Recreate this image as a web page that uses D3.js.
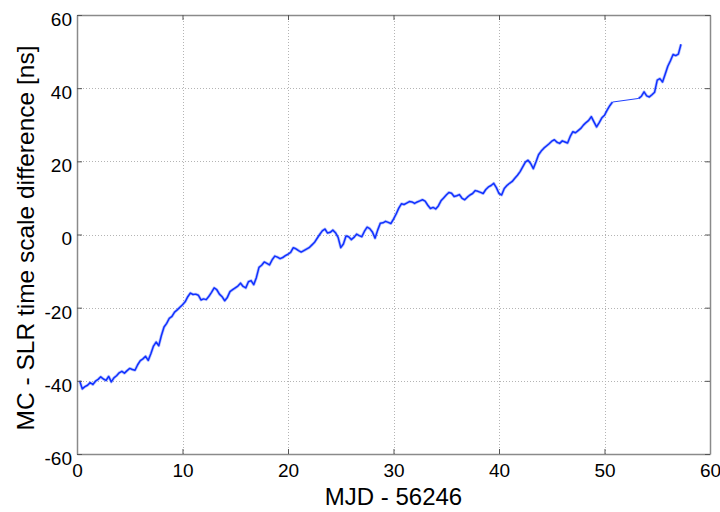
<!DOCTYPE html>
<html>
<head>
<meta charset="utf-8">
<script src="https://cdn.jsdelivr.net/npm/d3@7"></script>
<style>
  html, body { margin: 0; padding: 0; background: #fff; }
  svg { display: block; }
  text { font-family: "Liberation Sans", Arial, Helvetica, sans-serif; fill: #000; }
</style>
</head>
<body>
<svg id="chart" width="720" height="512"></svg>
<script>
// ---- data ----
const mjdSeg1 = [
  0.25,0.5,0.75,1.0, 1.25,1.5,1.75,2.0, 2.25,2.5,2.75,3.0, 3.25,3.5,3.75,4.0,
  4.25,4.5,4.75,5.0, 5.25,5.5,5.75,6.0, 6.25,6.5,6.75,7.0, 7.25,7.5,7.75,8.0,
  8.25,8.5,8.75,9.0, 9.25,9.5,9.75,10.0, 10.25,10.5,10.75,11.0, 11.25,11.5,11.75,12.0,
  12.25,12.5,12.75,13.0, 13.25,13.5,13.75,14.0, 14.25,14.5,14.75,15.0, 15.25,15.5,15.75,16.0,
  16.25,16.5,16.75,17.0, 17.25,17.5,17.75,18.0, 18.25,18.5,18.75,19.0, 19.25,19.5,19.75,20.0,
  20.25,20.5,20.75,21.0, 21.25,21.5,21.75,22.0, 22.25,22.5,22.75,23.0, 23.25,23.5,23.75,24.0,
  24.25,24.5,24.75,25.0, 25.25,25.5,25.75,26.0, 26.25,26.5,26.75,27.0, 27.25,27.5,27.75,28.0,
  28.25,28.5,28.75,29.0, 29.25,29.5,29.75,30.0, 30.25,30.5,30.75,31.0, 31.25,31.5,31.75,32.0,
  32.25,32.5,32.75,33.0, 33.25,33.5,33.75,34.0, 34.25,34.5,34.75,35.0, 35.25,35.5,35.75,36.0,
  36.25,36.5,36.75,37.0, 37.25,37.5,37.75,38.0, 38.25,38.5,38.75,39.0, 39.25,39.5,39.75,40.0,
  40.25,40.5,40.75,41.0, 41.25,41.5,41.75,42.0, 42.25,42.5,42.75,43.0, 43.25,43.5,43.75,44.0,
  44.25,44.5,44.75,45.0, 45.25,45.5,45.75,46.0, 46.25,46.5,46.75,47.0, 47.25,47.5,47.75,48.0,
  48.25,48.5,48.75,49.0, 49.25,49.5,49.75,50.0, 50.25,50.5,50.75
];
const diffSeg1 = [
  -40.0,-42.2,-41.6,-41.2, -40.5,-41.0,-40.1,-39.6, -38.9,-39.5,-39.9,-38.8, -40.3,-39.2,-38.6,-37.8,
  -37.4,-37.9,-37.2,-36.6, -36.9,-37.1,-35.6,-34.5, -34.0,-33.3,-34.4,-32.6, -30.5,-29.4,-30.4,-27.6,
  -25.3,-24.3,-22.9,-22.4, -21.2,-20.6,-19.9,-19.2, -18.4,-17.0,-16.0,-16.4, -16.3,-16.6,-17.9,-17.6,
  -17.8,-16.9,-15.8,-14.6, -15.1,-16.3,-17.0,-18.1, -17.2,-15.6,-15.1,-14.6, -14.1,-13.3,-14.2,-14.6,
  -12.9,-12.6,-13.7,-11.8, -9.0,-8.4,-7.5,-7.9, -8.3,-6.9,-5.9,-6.2, -6.6,-6.3,-5.8,-5.4,
  -4.9,-3.6,-3.9,-4.4, -4.8,-4.4,-4.0,-3.6, -2.9,-2.2,-1.1,0.0, 1.0,1.5,0.4,0.6,
  1.2,0.5,-0.8,-3.6, -2.6,-0.4,-0.6,-1.4, -0.8,0.1,-0.3,-0.6, 0.9,2.0,1.6,0.7,
  -1.0,1.2,3.1,3.2, 3.6,3.3,3.0,4.2, 5.6,7.2,8.4,8.2, 8.6,9.0,8.9,8.5,
  8.9,9.2,9.5,9.1, 8.0,7.1,7.4,7.0, 7.8,9.2,10.0,10.8, 11.5,11.3,10.4,10.6,
  10.9,9.9,9.5,10.2, 10.8,11.2,12.0,11.8, 11.5,11.2,12.3,13.0, 13.4,14.0,12.8,11.2,
  10.8,12.6,13.4,14.0, 14.5,15.4,16.2,17.2, 18.5,19.8,20.3,19.4, 18.0,19.8,21.8,22.8,
  23.6,24.2,24.8,25.5, 25.9,25.2,24.9,25.6, 25.3,25.0,26.8,28.1, 27.8,28.4,29.0,29.9,
  30.6,31.2,32.2,30.8, 29.4,30.6,31.9,32.6, 34.0,35.2,36.2
];
const mjdSeg2 = [53.25,53.5,53.75,54.0, 54.25,54.5,54.75,55.0, 55.25,55.5,55.75,56.0, 56.25,56.5,56.75,57.0, 57.25];
const diffSeg2 = [37.2,37.8,39.0,37.9, 37.6,38.2,38.9,42.2, 42.6,41.7,43.8,46.0, 47.5,49.2,48.9,49.3, 52.0];

const xTicks = [0, 10, 20, 30, 40, 50, 60];
const yTicks = [-60, -40, -20, 0, 20, 40, 60];
const xLabel = "MJD - 56246";
const yLabel = "MC - SLR time scale difference [ns]";

// ---- layout ----
const L = 77, R = 710, T = 15, B = 454;
const svg = d3.select("#chart");
const x = d3.scaleLinear().domain([0, 60]).range([L, R]);
const y = d3.scaleLinear().domain([-60, 60]).range([B, T]);

// grid
const grid = svg.append("g").attr("stroke", "#b4b4b4").attr("stroke-width", 1)
  .attr("stroke-dasharray", "1,2").attr("shape-rendering", "crispEdges");
grid.selectAll(".gx").data(xTicks.slice(1, -1)).enter().append("line")
  .attr("x1", d => Math.round(x(d)) + 0.5).attr("x2", d => Math.round(x(d)) + 0.5)
  .attr("y1", T).attr("y2", B);
grid.selectAll(".gy").data(yTicks.slice(1, -1)).enter().append("line")
  .attr("y1", d => Math.round(y(d)) + 0.5).attr("y2", d => Math.round(y(d)) + 0.5)
  .attr("x1", L).attr("x2", R);

// data line: the two observed stretches (soft halo + core to mimic the dense noisy trace)
const seg1 = mjdSeg1.map((d, i) => [d, diffSeg1[i]]);
const seg2 = mjdSeg2.map((d, i) => [d, diffSeg2[i]]);
const line = d3.line().x(d => x(d[0])).y(d => y(d[1]));
// thin straight connector across the data gap
svg.append("path").datum([seg1[seg1.length - 1], seg2[0]]).attr("d", line)
  .attr("fill", "none").attr("stroke", "#2040ff").attr("stroke-width", 1);
[seg1, seg2].forEach(seg => {
  svg.append("path").datum(seg).attr("d", line)
    .attr("fill", "none").attr("stroke", "#3050ff").attr("stroke-width", 3)
    .attr("stroke-opacity", 0.35).attr("stroke-linejoin", "round");
  svg.append("path").datum(seg).attr("d", line)
    .attr("fill", "none").attr("stroke", "#1030ff").attr("stroke-width", 1.5)
    .attr("stroke-linejoin", "round");
});

// axes (MATLAB-style, ticks inward, box on)
const tickLen = 5;
const axColor = "#8a8a8a";
const fmt = d => String(d);
const axBottom = svg.append("g").attr("transform", `translate(0,${B})`)
  .call(d3.axisBottom(x).tickValues(xTicks).tickFormat(fmt).tickSizeInner(-tickLen).tickSizeOuter(0).tickPadding(10));
const axTop = svg.append("g").attr("transform", `translate(0,${T})`)
  .call(d3.axisTop(x).tickValues(xTicks).tickSizeInner(-tickLen).tickSizeOuter(0).tickFormat(""));
const axLeft = svg.append("g").attr("transform", `translate(${L},0)`)
  .call(d3.axisLeft(y).tickValues(yTicks).tickFormat(fmt).tickSizeInner(-tickLen).tickSizeOuter(0).tickPadding(5));
const axRight = svg.append("g").attr("transform", `translate(${R},0)`)
  .call(d3.axisRight(y).tickValues(yTicks).tickSizeInner(-tickLen).tickSizeOuter(0).tickFormat(""));

[axBottom, axTop, axLeft, axRight].forEach(g => {
  g.select(".domain").attr("stroke", axColor).attr("stroke-width", 1.5);
  g.selectAll(".tick line").attr("stroke", "#555");
  g.selectAll("text").style("font-family", "'Liberation Sans', Arial, Helvetica, sans-serif")
    .style("font-size", "19px").attr("fill", "#111");
});
axBottom.selectAll("text").attr("dy", "0.71em");
axLeft.selectAll("text").attr("dy", "0.55em");

// axis titles
svg.append("text").attr("x", (L + R) / 2).attr("y", 505)
  .attr("text-anchor", "middle").style("font-size", "24px").text(xLabel);
svg.append("text").attr("transform", `translate(34,238) rotate(-90)`)
  .attr("text-anchor", "middle").style("font-size", "24.5px").text(yLabel);
</script>
</body>
</html>
